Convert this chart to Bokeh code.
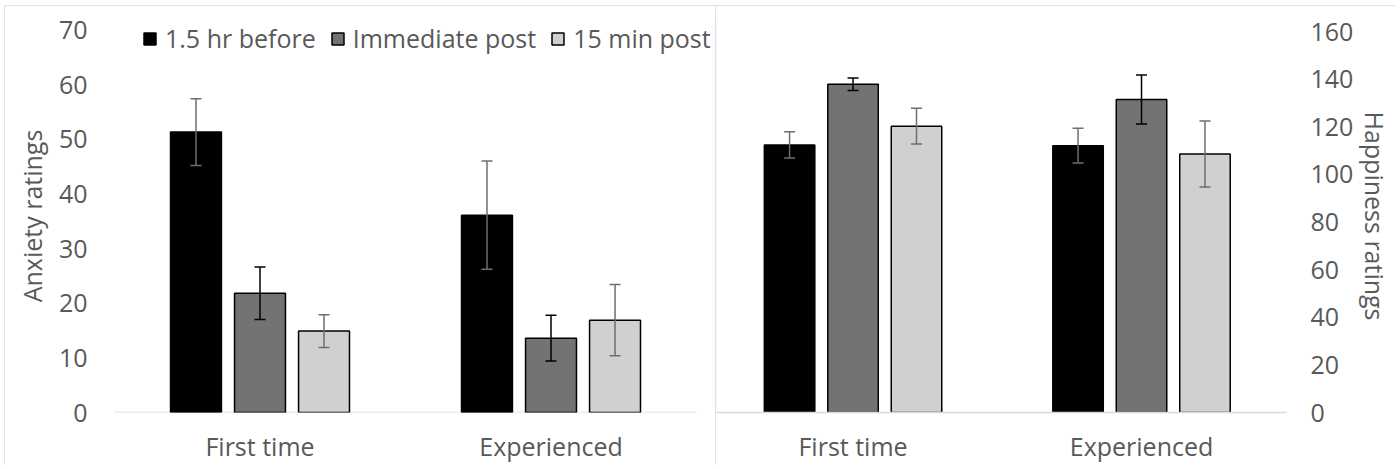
import numpy as np
from bokeh.plotting import figure
from bokeh.models import (ColumnDataSource, Whisker, Range1d, FixedTicker,
                          Legend, LegendItem, TeeHead)
from bokeh.layouts import row
from bokeh.embed import file_html
from bokeh.resources import INLINE

# ---------------- data ----------------
categories = ["First time", "Experienced"]
series = ["1.5 hr before", "Immediate post", "15 min post"]

anxiety_before = [51.3, 36.1]
anxiety_immediate = [21.8, 13.6]
anxiety_15min = [14.9, 16.9]
anxiety_before_err = [6.1, 9.9]
anxiety_immediate_err = [4.8, 4.2]
anxiety_15min_err = [3.0, 6.5]

happy_before = [112.4, 112.1]
happy_immediate = [137.9, 131.5]
happy_15min = [120.3, 108.6]
happy_before_err = [5.5, 7.3]
happy_immediate_err = [2.6, 10.3]
happy_15min_err = [7.5, 13.9]

anxiety_ticks = [0, 10, 20, 30, 40, 50, 60, 70]
happy_ticks = [0, 20, 40, 60, 80, 100, 120, 140, 160]

# ---------------- style ----------------
FONT = "Open Sans"
FS = "25px"
TXT = "#595959"
GRID = "#d9d9d9"
fills = ["#000000", "#737373", "#d0d0d0"]
err_colors = ["#6e6e6e", "#000000", "#6e6e6e"]
offsets = [-0.22, 0.0, 0.22]
BAR_W = 0.175
H = 460
TOP = 14
BOTTOM = 51

n_cat = len(categories)
cat_pos = np.arange(n_cat) + 0.5


def make_panel(width, x_range, y_range, ticks, means, errs, axis_label,
               y_loc, mb_left, mb_right, own_baseline=False):
    p = figure(width=width, height=H, output_backend="svg",
               toolbar_location=None, x_range=x_range,
               y_range=y_range, y_axis_location=y_loc,
               min_border_left=mb_left, min_border_right=mb_right,
               min_border_top=TOP, min_border_bottom=BOTTOM)
    p.outline_line_color = None
    p.xgrid.grid_line_color = None
    p.ygrid.grid_line_color = None
    p.styles = {"outline": "2px solid #d9d9d9", "outline-offset": "-2px"}

    if own_baseline:
        # category axis baseline spanning exactly the category slots
        p.segment(x0=[0], y0=[0], x1=[n_cat], y1=[0], line_color=GRID, line_width=1.5)

    renderers = []
    for i in range(len(series)):
        xs = cat_pos + offsets[i]
        m = np.array(means[i])
        e = np.array(errs[i])
        src = ColumnDataSource(dict(x=xs, top=m, upper=m + e, lower=m - e))
        r = p.vbar(x="x", top="top", width=BAR_W, source=src,
                   fill_color=fills[i], line_color="black", line_width=1.5)
        renderers.append(r)
        w = Whisker(source=src, base="x", upper="upper", lower="lower",
                    line_color=err_colors[i], line_width=1.5, level="overlay",
                    upper_head=TeeHead(size=11, line_color=err_colors[i], line_width=1.5),
                    lower_head=TeeHead(size=11, line_color=err_colors[i], line_width=1.5))
        p.add_layout(w)

    xa = p.xaxis[0]
    xa.ticker = FixedTicker(ticks=list(cat_pos))
    xa.major_label_overrides = {float(c): lab for c, lab in zip(cat_pos, categories)}
    xa.axis_line_color = None if own_baseline else GRID
    xa.axis_line_width = 1.5
    xa.major_tick_line_color = None
    xa.minor_tick_line_color = None
    xa.major_tick_out = 0
    xa.major_tick_in = 0
    xa.minor_tick_out = 0
    xa.major_label_standoff = 16
    xa.major_label_text_font = FONT
    xa.major_label_text_font_size = FS
    xa.major_label_text_color = TXT

    ya = p.yaxis[0]
    ya.ticker = FixedTicker(ticks=ticks)
    ya.axis_line_color = None
    ya.major_tick_line_color = None
    ya.minor_tick_line_color = None
    ya.major_tick_out = 0
    ya.major_tick_in = 0
    ya.minor_tick_out = 0
    ya.major_label_text_font = FONT
    ya.major_label_text_font_size = FS
    ya.major_label_text_color = TXT
    ya.axis_label = axis_label
    ya.axis_label_text_font = FONT
    ya.axis_label_text_font_size = FS
    ya.axis_label_text_font_style = "normal"
    ya.axis_label_text_color = TXT
    return p, renderers


left, rends = make_panel(711, Range1d(0, 2.0515), Range1d(0, 71.9), anxiety_ticks,
                         [anxiety_before, anxiety_immediate, anxiety_15min],
                         [anxiety_before_err, anxiety_immediate_err, anxiety_15min_err],
                         "Anxiety ratings", "left", 110, 4, own_baseline=True)
left.yaxis[0].major_label_standoff = 27
left.yaxis[0].axis_label_standoff = 7

legend = Legend(items=[LegendItem(label=s, renderers=[r]) for s, r in zip(series, rends)],
                orientation="horizontal", location=(28, 357),
                padding=0, margin=0, spacing=14, label_standoff=8,
                glyph_width=15, glyph_height=15,
                border_line_color=None, background_fill_alpha=0,
                label_text_font=FONT, label_text_font_size=FS,
                label_text_color=TXT)
left.add_layout(legend)

right, _ = make_panel(680, Range1d(0.0267, 2.0026), Range1d(0, 165.1), happy_ticks,
                      [happy_before, happy_immediate, happy_15min],
                      [happy_before_err, happy_immediate_err, happy_15min_err],
                      "Happiness ratings", "right", 1, 105)
right.yaxis[0].major_label_standoff = 24
right.yaxis[0].axis_label_standoff = 2

layout = row(left, right, spacing=0, margin=(5, 0, 0, 4))
open("out.html", "w").write(file_html(layout, INLINE))
